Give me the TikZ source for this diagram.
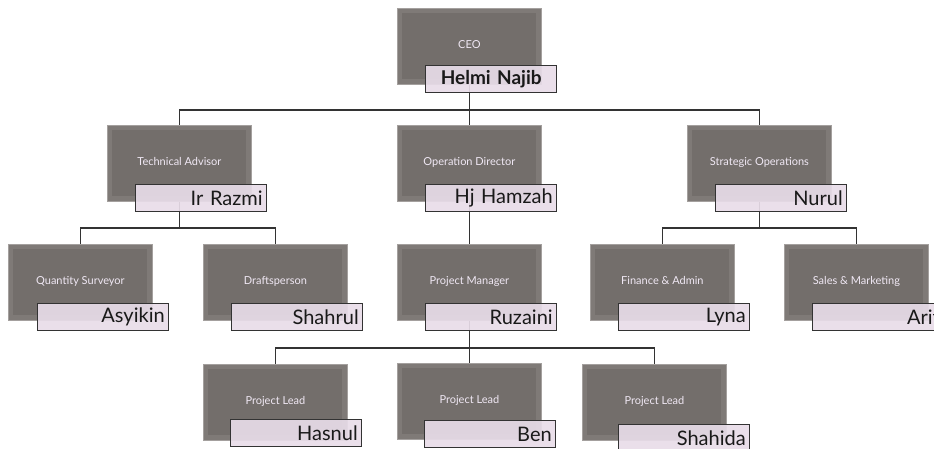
\documentclass[tikz,border=0pt]{standalone}
\usepackage{fontspec}
\setmainfont{Lato}
\usetikzlibrary{backgrounds}
\definecolor{boxgray}{HTML}{736E6B}
\definecolor{boxouter}{HTML}{7F7A77}
\definecolor{boxedge}{HTML}{A4A09E}
\definecolor{titletext}{HTML}{F0E8F4}
\definecolor{namefill}{HTML}{E8DCE8}
\definecolor{namedraw}{HTML}{333333}
\definecolor{connc}{HTML}{333333}
\tikzset{
  titlebox/.style={rectangle, fill=boxouter, draw=boxedge, line width=0.8pt,
    minimum width=144pt, minimum height=76pt, anchor=north west, inner sep=0pt,
    text=titletext, font=\fontsize{11}{13}\selectfont,
    path picture={\fill[boxgray] ([shift={(5pt,-5pt)}]path picture bounding box.north west)
      rectangle ([shift={(-5pt,5pt)}]path picture bounding box.south east);}},
  namebox/.style={rectangle, fill=namefill, fill opacity=0.92, text opacity=1,
    draw=namedraw, line width=1.4pt, minimum width=131pt, minimum height=27pt,
    inner xsep=4pt, inner ysep=0pt, text width=123pt, align=right, anchor=north west,
    font=\fontsize{20}{22}\selectfont, text=black!90},
  conn/.style={draw=connc, line width=1.5pt}
}
\newcommand\orgunit[8][]{%
  \node[titlebox] (#2) at (#3,#4) {\raisebox{4pt}{#5}};
  \node[namebox,#1] (#2n) at (#3+#7,#4+#8) {#6};}
\begin{document}
\begin{tikzpicture}[x=1pt,y=-1pt]
\useasboundingbox (0,0) rectangle (934,448);
\clip (0,0) rectangle (934,448);
\coordinate (bus1) at (0,110);
\coordinate (bus2) at (0,228);
\coordinate (bus3) at (0,348);
\orgunit[align=center, font=\fontsize{19}{22}\selectfont\bfseries]{ceo}{397}{8}{CEO}{Helmi Najib}{28}{57}
\orgunit{ta}{107}{125}{Technical Advisor}{Ir Razmi}{28}{59}
\orgunit{od}{397}{125}{Operation Director}{Hj Hamzah}{28}{59}
\orgunit{so}{687}{125}{Strategic Operations}{Nurul}{28}{59}
\orgunit{qs}{8}{244}{Quantity Surveyor}{Asyikin}{29}{59}
\orgunit{dp}{203}{244}{Draftsperson}{Shahrul}{28}{59}
\orgunit{pm}{397}{244}{Project Manager}{Ruzaini}{28}{59}
\orgunit{fa}{590}{244}{Finance \& Admin}{Lyna}{28}{59}
\orgunit{sm}{784}{244}{Sales \& Marketing}{Arif}{28}{59}
\orgunit{pla}{203}{364}{Project Lead}{Hasnul}{27}{55}
\orgunit{plb}{397}{363}{Project Lead}{Ben}{27}{57}
\orgunit{plc}{582}{364}{Project Lead}{Shahida}{36}{60}
\begin{scope}[on background layer]
  % CEO to row 2
  \draw[conn] (ceo.center) -- (ceo.center |- bus1);
  \draw[conn] (ta.north) -- (ta.north |- bus1) -- (so.north |- bus1) -- (so.north);
  \draw[conn] (ceo.center |- bus1) -- (od.north);
  % row 2 to row 3
  \draw[conn] (ta.center) -- (ta.center |- bus2);
  \draw[conn] (qs.north) -- (qs.north |- bus2) -- (dp.north |- bus2) -- (dp.north);
  \draw[conn] (od.center) -- (pm.north);
  \draw[conn] (so.center) -- (so.center |- bus2);
  \draw[conn] (fa.north) -- (fa.north |- bus2) -- (sm.north |- bus2) -- (sm.north);
  % row 3 to row 4
  \draw[conn] (pm.center) -- (pm.center |- bus3);
  \draw[conn] (pla.north) -- (pla.north |- bus3) -- (plc.north |- bus3) -- (plc.north);
  \draw[conn] (pm.center |- bus3) -- (plb.north);
\end{scope}
\end{tikzpicture}
\end{document}
